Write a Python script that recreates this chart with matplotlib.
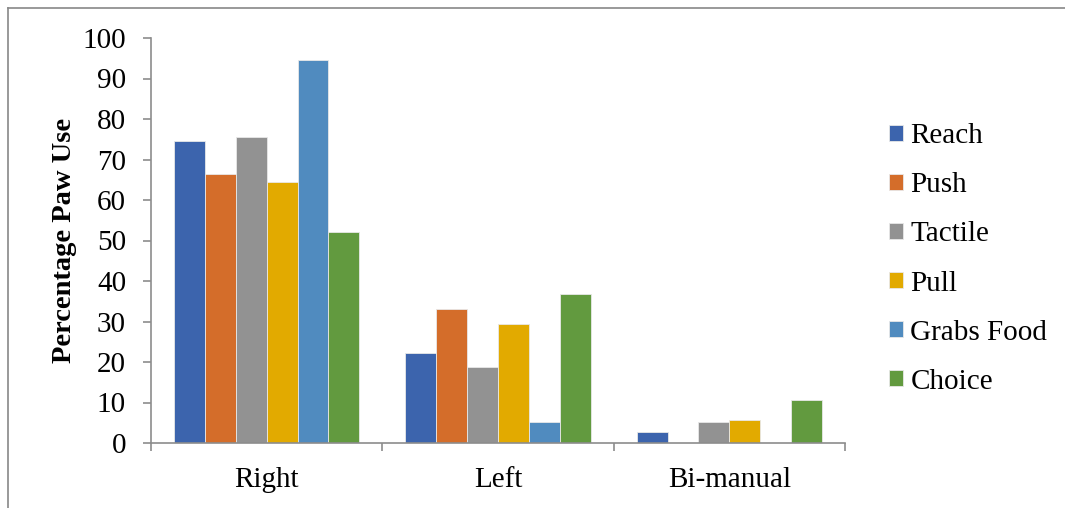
import matplotlib.pyplot as plt
import numpy as np
from matplotlib.lines import Line2D

# paw preference per task, in percent
hands = ['Right', 'Left', 'Bi-manual']
tasks = ['Reach', 'Push', 'Tactile', 'Pull', 'Grabs Food', 'Choice']
reach = [74.5, 22.3, 2.7]
push = [66.5, 33.2, 0.0]
tactile = [75.5, 18.8, 5.3]
pull = [64.5, 29.3, 5.8]
grabs_food = [94.5, 5.3, 0.0]
choice = [52.1, 36.9, 10.7]

colors = ['#3c64ad', '#d46d2a', '#929292', '#e2aa00', '#508bbf', '#629a3f']

plt.rcParams['font.family'] = ['Liberation Serif', 'DejaVu Serif']
FS = 21

fig = plt.figure(figsize=(10.65, 5.08), dpi=100)
ax = fig.add_axes([151 / 1065, 1 - 443 / 508, 694 / 1065, 405 / 508])

x = np.arange(len(hands))
w = 1 / 7.5
series = [reach, push, tactile, pull, grabs_food, choice]
for i, (name, vals) in enumerate(zip(tasks, series)):
    ax.bar(x + (i - 2.5) * w, vals, w, color=colors[i], label=name,
           edgecolor='#e8e8e8', linewidth=0.6, zorder=2)

ax.set_xlim(-0.5, 2.5)
ax.set_ylim(0, 100)
ax.set_yticks(np.arange(0, 101, 10))
ax.set_xticks(x)
ax.set_xticklabels(hands)
ax.set_xticks(np.arange(-0.5, 2.6, 1), minor=True)

axis_col = '#8c8c8c'
for s in ['top', 'right']:
    ax.spines[s].set_visible(False)
for s in ['left', 'bottom']:
    ax.spines[s].set_color(axis_col)
    ax.spines[s].set_linewidth(1.2)

ax.tick_params(axis='y', direction='out', length=6, color=axis_col, width=1.2,
               labelsize=FS, pad=12)
ax.tick_params(axis='x', which='major', length=0, labelsize=FS, pad=17)
ax.tick_params(axis='x', which='minor', direction='out', length=6,
               color=axis_col, width=1.2)

ax.set_ylabel('Percentage Paw Use', fontsize=20.5, fontweight='bold', labelpad=4)

fig.legend(loc='center left', bbox_to_anchor=(889 / 1065, 1 - 259 / 508),
           frameon=False, fontsize=FS, handlelength=0.48, handleheight=0.48,
           handletextpad=0.25, labelspacing=0.79, borderpad=0, borderaxespad=0)

# outer frame: top and left edges only
fig.add_artist(Line2D([8 / 1065, 1], [1 - 8 / 508, 1 - 8 / 508],
                      transform=fig.transFigure, color='#888888', lw=1.2))
fig.add_artist(Line2D([8 / 1065, 8 / 1065], [0, 1 - 8 / 508],
                      transform=fig.transFigure, color='#888888', lw=1.2))

fig.savefig('out.png', dpi=100)
